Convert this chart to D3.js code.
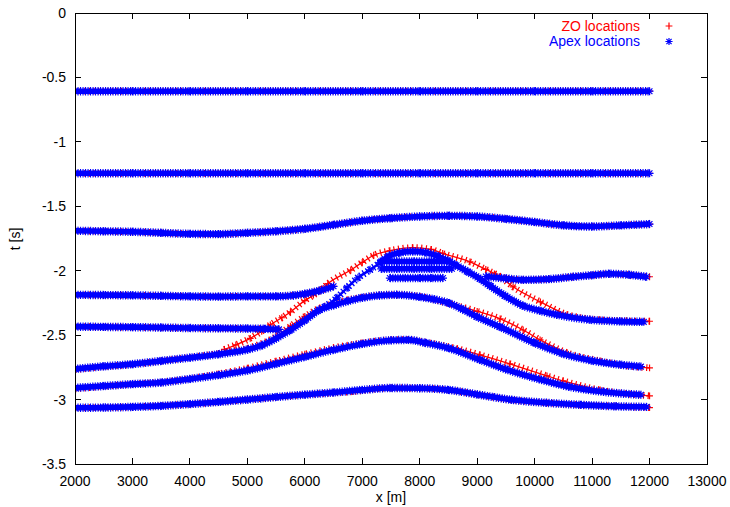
<!DOCTYPE html>
<html>
<head>
<meta charset="utf-8">
<script src="https://cdn.jsdelivr.net/npm/d3@7"></script>
<style>
  html, body { margin: 0; padding: 0; background: #ffffff; }
  svg { display: block; font-family: "Liberation Sans", Arial, Helvetica, sans-serif; }
</style>
</head>
<body>
<svg id="chart" width="730" height="507"></svg>
<script>
// ---- axis ticks ----
const xTicks = [2000, 3000, 4000, 5000, 6000, 7000, 8000, 9000, 10000, 11000, 12000, 13000];
const yTicks = [0, -0.5, -1, -1.5, -2, -2.5, -3, -3.5];
const yTickLabels = ["0", "-0.5", "-1", "-1.5", "-2", "-2.5", "-3", "-3.5"];

// ---- Apex locations, one array per reflector branch: [x (m), t (s)] ----
const apexH1 = [[2000,-0.607],[3000,-0.607],[4000,-0.607],[5000,-0.607],[6000,-0.607],[7000,-0.607],
                [8000,-0.607],[9000,-0.607],[10000,-0.607],[11000,-0.607],[12000,-0.607]];
const apexH2 = [[2000,-1.244],[3000,-1.244],[4000,-1.244],[5000,-1.244],[6000,-1.244],[7000,-1.244],
                [8000,-1.244],[9000,-1.244],[10000,-1.244],[11000,-1.244],[12000,-1.244]];
const apexH3 = [[2000,-1.690],[2500,-1.694],[3000,-1.698],[3500,-1.706],[4000,-1.714],[4500,-1.716],
                [5000,-1.706],[5500,-1.694],[6000,-1.675],[6500,-1.644],[7000,-1.612],[7500,-1.592],
                [8000,-1.579],[8500,-1.574],[9000,-1.579],[9500,-1.598],[10000,-1.622],[10500,-1.648],
                [11000,-1.657],[11500,-1.648],[12000,-1.638]];
const apexH4Left = [[2000,-2.187],[2500,-2.189],[3000,-2.191],[3500,-2.195],[4000,-2.199],[4500,-2.201],
                    [5000,-2.199],[5500,-2.199],[5800,-2.192],[6000,-2.179],[6250,-2.155],[6500,-2.121]];
const apexH4Right = [[9150,-2.045],[9500,-2.060],[9800,-2.071],[10250,-2.065],[10670,-2.047],
                     [11000,-2.035],[11300,-2.024],[11650,-2.032],[11950,-2.047]];
const apexH5Left = [[2000,-2.434],[2500,-2.436],[3000,-2.438],[3500,-2.441],[4000,-2.445],[4500,-2.447],
                    [5000,-2.449],[5300,-2.451],[5550,-2.455]];
// steep flank rising from the lower reflector to the top of the dome
const apexSteep = [[6350,-2.280],[6560,-2.210],[6735,-2.133],[6925,-2.055],[7135,-1.993],[7310,-1.939]];
const apexDome = [[7310,-1.939],[7450,-1.890],[7650,-1.860],[7880,-1.850],[8100,-1.858],[8300,-1.885],
                  [8450,-1.915],[8615,-1.954],[8840,-2.009],[9050,-2.063],[9225,-2.118],[9485,-2.195],
                  [9800,-2.272],[10095,-2.311],[10390,-2.342],[10965,-2.381],[11485,-2.393],[11900,-2.397]];
const apexStripe1 = [[7330,-1.929],[7600,-1.929],[7900,-1.929],[8200,-1.929],[8530,-1.929]];
const apexStripe2 = [[7330,-1.985],[7600,-1.985],[7900,-1.985],[8200,-1.985],[8560,-1.985]];
const apexStripe3 = [[7480,-2.057],[7750,-2.057],[8000,-2.057],[8200,-2.057],[8405,-2.057]];
const apexH6 = [[2000,-2.762],[2500,-2.742],[3000,-2.725],[3500,-2.700],[4000,-2.675],[4500,-2.648],
                [5000,-2.612],[5250,-2.580],[5500,-2.525],[5750,-2.460],[6000,-2.385],[6250,-2.305],
                [6500,-2.268],[6750,-2.236],[7000,-2.210],[7300,-2.192],[7600,-2.187],[8000,-2.203],
                [8250,-2.222],[8500,-2.250],[8750,-2.300],[9000,-2.358],[9400,-2.436],[10000,-2.560],
                [10500,-2.645],[11000,-2.698],[11500,-2.730],[11850,-2.744]];
const apexH7 = [[2000,-2.909],[2500,-2.895],[3000,-2.880],[3500,-2.868],[4000,-2.840],[4500,-2.810],
                [5000,-2.775],[5500,-2.722],[6000,-2.668],[6500,-2.614],[7000,-2.568],[7500,-2.540],
                [7800,-2.537],[8100,-2.560],[8500,-2.600],[9050,-2.692],[9500,-2.765],[10120,-2.847],
                [10600,-2.900],[11200,-2.940],[11850,-2.963]];
const apexH8 = [[2000,-3.064],[2500,-3.062],[3000,-3.057],[3500,-3.049],[4000,-3.035],[4500,-3.018],
                [5000,-3.000],[5500,-2.980],[6000,-2.962],[6500,-2.945],[7000,-2.925],[7500,-2.910],
                [8000,-2.912],[8500,-2.925],[9000,-2.960],[9600,-3.002],[10200,-3.025],[10800,-3.041],
                [11400,-3.052],[11950,-3.057]];

// ---- ZO locations: [x (m), t (s)] ----
const zoH4Right = [[9300,-2.024],[9500,-2.058],[9800,-2.071],[10250,-2.065],[10670,-2.047],
                   [11000,-2.035],[11300,-2.024],[11650,-2.032],[12000,-2.047]];
const zoDome = [[4600,-2.610],[4800,-2.575],[5050,-2.525],[5250,-2.470],[5400,-2.420],
                [5600,-2.365],[5750,-2.320],[6000,-2.232],[6150,-2.190],[6300,-2.140],[6400,-2.100],
                [6800,-1.995],[7000,-1.935],[7200,-1.880],[7480,-1.845],[7880,-1.821],[8200,-1.835],
                [8400,-1.866],[8875,-1.931],[9150,-1.990],[9400,-2.047],[9625,-2.125],[10100,-2.242],
                [10565,-2.340],[11140,-2.381],[11600,-2.390],[12000,-2.392]];
const zoH6 = [[2000,-2.768],[2500,-2.745],[3000,-2.727],[3500,-2.700],[4000,-2.673],[4500,-2.642],
              [5000,-2.602],[5500,-2.510],[5750,-2.430],[6000,-2.355],[6250,-2.292],[6500,-2.255],
              [6750,-2.225],[7000,-2.207],[7300,-2.190],[7600,-2.187],[8000,-2.200],[8530,-2.257],
              [9000,-2.315],[9400,-2.373],[9800,-2.460],[10095,-2.537],[10565,-2.637],[11140,-2.700],
              [11600,-2.738],[12000,-2.754]];
const zoH7 = [[2000,-2.917],[2500,-2.897],[3000,-2.880],[3500,-2.866],[4000,-2.837],[4500,-2.800],
              [5000,-2.757],[5500,-2.702],[6000,-2.648],[6500,-2.598],[7000,-2.560],[7500,-2.537],
              [7800,-2.535],[8100,-2.555],[8650,-2.605],[9050,-2.653],[9570,-2.723],[10215,-2.816],
              [10495,-2.855],[11140,-2.925],[12000,-2.971]];
const zoH8 = [[2000,-3.064],[3000,-3.057],[4000,-3.035],[5000,-3.000],[6000,-2.962],[6840,-2.938],
              [7500,-2.910],[8000,-2.912],[8500,-2.925],[9000,-2.960],[9600,-3.002],[10200,-3.025],
              [10800,-3.041],[11400,-3.052],[12000,-3.062]];

// flat reflectors: zero-offset and apex locations coincide
const zoSegments = [apexH1, apexH2, apexH3, apexH4Left, zoH4Right, apexH5Left, zoDome, zoH6, zoH7, zoH8];
const apexSegments = [apexH1, apexH2, apexH3, apexH4Left, apexH4Right, apexH5Left, apexH6,
                      apexH7, apexH8, apexStripe1, apexStripe2, apexStripe3, apexDome];
const apexSparse = [apexSteep];

const legendLabels = ["ZO locations", "Apex locations"];
const RED = "#ff0000", BLUE = "#0000ff";

// ---- layout ----
const svg = d3.select("#chart");
const margin = { left: 75, right: 23, top: 13, bottom: 43 };
const W = 730, H = 507;
const x = d3.scaleLinear().domain([2000, 13000]).range([margin.left, W - margin.right]);
const y = d3.scaleLinear().domain([-3.5, 0]).range([H - margin.bottom, margin.top]);

const line = d3.line().x(d => x(d[0])).y(d => y(d[1])).curve(d3.curveMonotoneX);

const plusPath = r => `M${-r},0H${r}M0,${-r}V${r}`;
const starPath = r => {
  const d = r * 0.72;
  return `M${-r},0H${r}M0,${-r}V${r}M${-d},${-d}L${d},${d}M${-d},${d}L${d},${-d}`;
};

const plot = svg.append("g");
svg.append("clipPath").attr("id", "plotclip").append("rect")
  .attr("x", margin.left).attr("y", margin.top)
  .attr("width", W - margin.left - margin.right).attr("height", H - margin.top - margin.bottom);
plot.attr("clip-path", "url(#plotclip)");

// ZO locations (red plus marks), drawn first
zoSegments.forEach(seg => {
  const g = plot.append("g");
  g.append("path").attr("d", line(seg)).attr("fill", "none")
    .attr("stroke", RED).attr("stroke-width", 1.3);
  g.append("path").attr("d", line(seg)).attr("fill", "none")
    .attr("stroke", RED).attr("stroke-width", 6.8).attr("stroke-dasharray", "1.2 3.4");
  g.selectAll("path.pt").data(seg).join("path").attr("class", "pt")
    .attr("transform", d => `translate(${x(d[0])},${y(d[1])})`)
    .attr("d", plusPath(3.4)).attr("stroke", RED).attr("stroke-width", 1.2).attr("fill", "none");
});

// Apex locations (blue asterisks), on top
apexSegments.forEach(seg => {
  const g = plot.append("g");
  g.append("path").attr("d", line(seg)).attr("fill", "none")
    .attr("stroke", BLUE).attr("stroke-width", 5.6);
  g.append("path").attr("d", line(seg)).attr("fill", "none")
    .attr("stroke", BLUE).attr("stroke-width", 8.4).attr("stroke-dasharray", "1.1 1.4");
  g.selectAll("path.pt").data(seg).join("path").attr("class", "pt")
    .attr("transform", d => `translate(${x(d[0])},${y(d[1])})`)
    .attr("d", starPath(4)).attr("stroke", BLUE).attr("stroke-width", 1.2).attr("fill", "none");
});
// sparser run of asterisks along the steep flank
apexSparse.forEach(seg => {
  const g = plot.append("g");
  g.append("path").attr("d", line(seg)).attr("fill", "none")
    .attr("stroke", BLUE).attr("stroke-width", 2.5);
  g.append("path").attr("d", line(seg)).attr("fill", "none")
    .attr("stroke", BLUE).attr("stroke-width", 7.5).attr("stroke-dasharray", "1.3 2.6");
  g.selectAll("path.pt").data(seg).join("path").attr("class", "pt")
    .attr("transform", d => `translate(${x(d[0])},${y(d[1])})`)
    .attr("d", starPath(4)).attr("stroke", BLUE).attr("stroke-width", 1.2).attr("fill", "none");
});

// ---- frame and ticks ----
const x0 = x.range()[0], x1 = x.range()[1], y0 = y.range()[1], y1 = y.range()[0];
const axes = svg.append("g").attr("stroke", "#000").attr("stroke-width", 1).attr("shape-rendering", "crispEdges");
xTicks.forEach(v => {
  axes.append("line").attr("x1", x(v)).attr("x2", x(v)).attr("y1", y1).attr("y2", y1 - 6);
  axes.append("line").attr("x1", x(v)).attr("x2", x(v)).attr("y1", y0).attr("y2", y0 + 6);
});
yTicks.forEach(v => {
  axes.append("line").attr("x1", x0).attr("x2", x0 + 6).attr("y1", y(v)).attr("y2", y(v));
  axes.append("line").attr("x1", x1).attr("x2", x1 - 6).attr("y1", y(v)).attr("y2", y(v));
});
axes.append("rect").attr("x", x0).attr("y", y0).attr("width", x1 - x0).attr("height", y1 - y0)
  .attr("fill", "none");

const labels = svg.append("g").attr("font-size", 14).attr("fill", "#000");
xTicks.forEach(v => {
  labels.append("text").attr("x", x(v)).attr("y", y1 + 21.5).attr("text-anchor", "middle").text(v);
});
yTicks.forEach((v, i) => {
  labels.append("text").attr("x", x0 - 9).attr("y", y(v)).attr("dy", "0.36em")
    .attr("text-anchor", "end").text(yTickLabels[i]);
});
labels.append("text").attr("x", (x0 + x1) / 2).attr("y", 502).attr("text-anchor", "middle").text("x [m]");
labels.append("text").attr("transform", "translate(20,239) rotate(-90)")
  .attr("text-anchor", "middle").text("t [s]");

// ---- legend ----
const legend = svg.append("g").attr("font-size", 14);
legend.append("text").attr("x", 640).attr("y", 31).attr("text-anchor", "end").attr("fill", RED).text(legendLabels[0]);
legend.append("text").attr("x", 640).attr("y", 46).attr("text-anchor", "end").attr("fill", BLUE).text(legendLabels[1]);
legend.append("path").attr("transform", "translate(669,26)").attr("d", plusPath(3.4))
  .attr("stroke", RED).attr("stroke-width", 1.2).attr("fill", "none");
legend.append("path").attr("transform", "translate(669,41.5)").attr("d", starPath(3.6))
  .attr("stroke", BLUE).attr("stroke-width", 1.2).attr("fill", "none");
</script>
</body>
</html>
